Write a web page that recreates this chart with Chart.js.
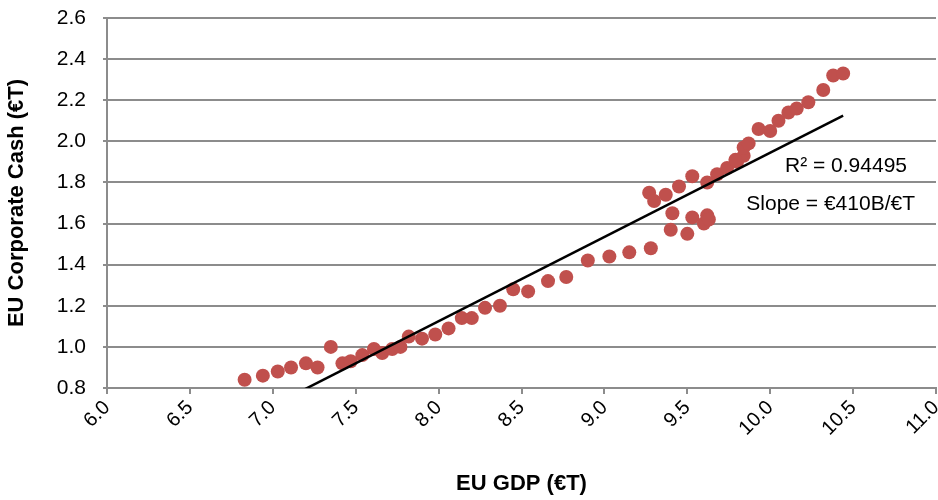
<!DOCTYPE html>
<html>
<head>
<meta charset="utf-8">
<script src="https://cdn.jsdelivr.net/npm/chart.js@4.4.1/dist/chart.umd.min.js"></script>
<style>
  html, body { margin: 0; padding: 0; background: #ffffff; }
  #wrap { width: 938px; height: 500px; position: relative; }
</style>
</head>
<body>
<div id="wrap"><canvas id="chart" width="938" height="500"></canvas></div>
<script>
// EU GDP (€T) against EU corporate cash holdings (€T)
const gdp = [
  6.83, 6.94, 7.03, 7.11, 7.20, 7.27, 7.35, 7.42, 7.47, 7.54,
  7.61, 7.66, 7.72, 7.77, 7.82, 7.90, 7.98, 8.06, 8.14, 8.20,
  8.28, 8.37, 8.45, 8.54, 8.66, 8.77, 8.90, 9.03, 9.15, 9.28,
  9.27, 9.30, 9.37, 9.45, 9.53, 9.62, 9.68, 9.74, 9.80, 9.84,
  9.84, 9.87, 9.41, 9.53, 9.62, 9.60, 9.40, 9.50, 9.63, 9.79,
  9.93, 10.00, 10.05, 10.11, 10.16, 10.23, 10.32, 10.38, 10.44
];
const cash = [
  0.84, 0.86, 0.88, 0.90, 0.92, 0.90, 1.00, 0.92, 0.93, 0.96,
  0.99, 0.97, 0.99, 1.00, 1.05, 1.04, 1.06, 1.09, 1.14, 1.14,
  1.19, 1.20, 1.28, 1.27, 1.32, 1.34, 1.42, 1.44, 1.46, 1.48,
  1.75, 1.71, 1.74, 1.78, 1.83, 1.80, 1.84, 1.87, 1.90, 1.93,
  1.97, 1.99, 1.65, 1.63, 1.64, 1.60, 1.57, 1.55, 1.62, 1.91,
  2.06, 2.05, 2.10, 2.14, 2.16, 2.19, 2.25, 2.32, 2.33
];

// Linear trend: slope €410B per €T of GDP
const trendSlope = 0.41;
const trendIntercept = -2.155;
const rSquared = '0.94495';

const xTicks = [6.0, 6.5, 7.0, 7.5, 8.0, 8.5, 9.0, 9.5, 10.0, 10.5, 11.0];
const yTicks = [0.8, 1.0, 1.2, 1.4, 1.6, 1.8, 2.0, 2.2, 2.4, 2.6];

const points = gdp.map((g, i) => ({ x: g, y: cash[i] }));
const xLo = Math.min(...gdp), xHi = Math.max(...gdp);
const trend = [
  { x: xLo, y: trendSlope * xLo + trendIntercept },
  { x: xHi, y: trendSlope * xHi + trendIntercept }
];

const gridGrey = '#8c8c8c';
const FONT = "'Liberation Sans', Arial, sans-serif";

const trendLabels = {
  id: 'trendLabels',
  afterDatasetsDraw(chart) {
    const ctx = chart.ctx;
    ctx.save();
    ctx.fillStyle = '#000';
    ctx.font = '21px ' + FONT;
    ctx.textAlign = 'right';
    ctx.textBaseline = 'middle';
    ctx.fillText('R² = ' + rSquared, 907, 166);
    ctx.fillText('Slope = €' + Math.round(trendSlope * 1000) + 'B/€T', 915, 204);
    ctx.restore();
  }
};

new Chart(document.getElementById('chart'), {
  type: 'scatter',
  data: {
    datasets: [
      {
        label: 'Corporate cash',
        data: points,
        backgroundColor: '#c0504d',
        borderColor: '#c0504d',
        pointRadius: 7,
        pointBorderWidth: 0,
        order: 2
      },
      {
        label: 'Trend',
        type: 'line',
        data: trend,
        borderColor: '#000000',
        borderWidth: 2.5,
        pointRadius: 0,
        fill: false,
        order: 1
      }
    ]
  },
  options: {
    responsive: false,
    animation: false,
    devicePixelRatio: 1,
    layout: { autoPadding: false, padding: { top: 18, right: 2, left: 0, bottom: 0 } },
    plugins: {
      legend: { display: false },
      tooltip: { enabled: false }
    },
    scales: {
      x: {
        type: 'linear',
        min: 6, max: 11,
        afterBuildTicks(scale) { scale.ticks = xTicks.map(v => ({ value: v })); },
        afterFit(scale) {
          scale.height = 112;
          scale.paddingRight = 0;
          scale.paddingLeft = 0;
        },
        ticks: {
          minRotation: 45, maxRotation: 45,
          color: '#000',
          font: { family: FONT, size: 20 },
          padding: 2,
          callback: v => Number(v).toFixed(1)
        },
        grid: {
          drawOnChartArea: false,
          drawTicks: true,
          tickLength: 6,
          color: gridGrey,
          lineWidth: 2
        },
        border: { color: gridGrey, width: 2 },
        title: {
          display: true,
          text: 'EU GDP (€T)',
          color: '#000',
          font: { family: FONT, size: 22, weight: 'bold' },
          padding: { top: 0, bottom: 3 }
        }
      },
      y: {
        type: 'linear',
        min: 0.8, max: 2.6,
        afterBuildTicks(scale) { scale.ticks = yTicks.map(v => ({ value: v })); },
        afterFit(scale) {
          scale.width = 107;
          scale.paddingTop = 0;
          scale.paddingBottom = 0;
        },
        ticks: {
          color: '#000',
          font: { family: FONT, size: 21 },
          padding: 17,
          callback: v => Number(v).toFixed(1)
        },
        grid: {
          drawOnChartArea: true,
          drawTicks: true,
          tickLength: 4,
          color: gridGrey,
          lineWidth: 2
        },
        border: { color: gridGrey, width: 2 },
        title: {
          display: true,
          text: 'EU Corporate Cash (€T)',
          color: '#000',
          font: { family: FONT, size: 22, weight: 'bold' },
          padding: { top: 4, bottom: 4 }
        }
      }
    }
  },
  plugins: [trendLabels]
});
</script>
</body>
</html>
